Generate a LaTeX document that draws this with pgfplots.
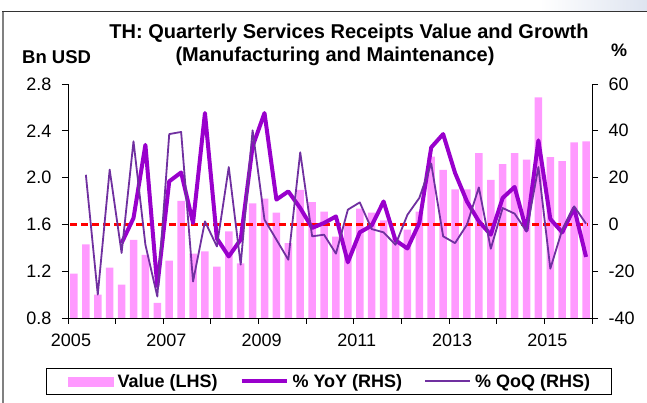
\documentclass[border=0pt]{standalone}
\usepackage{pgfplots}
\pgfplotsset{compat=1.18}
\usepackage{pgfplotstable}
\usepackage{fontspec}
\setmainfont{Liberation Sans}
\definecolor{barpink}{RGB}{255,153,255}
\definecolor{yoypurple}{RGB}{153,0,204}
\definecolor{qoqviolet}{RGB}{112,48,160}
\definecolor{framegray}{RGB}{128,128,128}

\pgfplotstableread{
x val
0.5 1.18
1.5 1.43
2.5 1.00
3.5 1.23
4.5 1.085
5.5 1.467
6.5 1.34
7.5 0.93
8.5 1.29
9.5 1.80
10.5 1.35
11.5 1.37
12.5 1.24
13.5 1.54
14.5 1.267
15.5 1.78
16.5 1.82
17.5 1.70
18.5 1.44
19.5 1.894
20.5 1.79
21.5 1.71
22.5 1.495
23.5 1.59
24.5 1.734
25.5 1.70
26.5 1.634
27.5 1.49
28.5 1.555
29.5 1.71
30.5 2.18
31.5 2.067
32.5 1.90
33.5 1.90
34.5 2.21
35.5 1.98
36.5 2.116
37.5 2.21
38.5 2.153
39.5 2.685
40.5 2.176
41.5 2.14
42.5 2.30
43.5 2.31
}\valtable

\pgfplotstableread{
x yoy
4.5 -8
5.5 2.7
6.5 34
7.5 -26.5
8.5 18.4
9.5 22.2
10.5 0.6
11.5 47.6
12.5 -6
13.5 -13.7
14.5 -6.5
15.5 33.3
16.5 47.6
17.5 10.6
18.5 14.1
19.5 7.0
20.5 -1.5
21.5 0.6
22.5 3.4
23.5 -16.2
24.5 -3.4
25.5 -0.5
26.5 9.8
27.5 -6.8
28.5 -10.3
29.5 0.6
30.5 32.9
31.5 38.6
32.5 22
33.5 9.8
34.5 1.3
35.5 -4.4
36.5 11.3
37.5 16
38.5 -2.6
39.5 35.9
40.5 2.3
41.5 -3.4
42.5 7.0
43.5 -13.9
}\yoytable

\pgfplotstableread{
x qoq
1.5 21.2
2.5 -30
3.5 23.4
4.5 -12.2
5.5 35.5
6.5 -8.7
7.5 -30.8
8.5 38.6
9.5 39.5
10.5 -24.4
11.5 1.3
12.5 -9.4
13.5 24.5
14.5 -17.2
15.5 40.2
16.5 2.0
17.5 -6.5
18.5 -15.1
19.5 30.8
20.5 -5.1
21.5 -4.4
22.5 -12.5
23.5 6.3
24.5 9.4
25.5 -2
26.5 -3.4
27.5 -8.7
28.5 4.1
29.5 11.3
30.5 26
31.5 -5.1
32.5 -8
33.5 -0.1
34.5 15.8
35.5 -10.4
36.5 7.0
37.5 4.6
38.5 -3
39.5 24.5
40.5 -18.9
41.5 -2.3
42.5 7.7
43.5 0.3
}\qoqtable

\begin{document}
\begin{tikzpicture}[x=1pt,y=1pt]
\useasboundingbox (-68,-85) rectangle (579,318);
% background swoosh and frame
\fill[left color=white, right color={rgb,255:red,222;green,228;blue,240}] (472,318) rectangle (579,306.5);
\draw[framegray, line width=1.2pt] (-65,-85) -- (-65,306);
\draw[black!80, line width=1pt] (-65.6,306) -- (579,306);

% titles
\node[anchor=base, font=\fontsize{20}{24}\bfseries\selectfont, inner sep=0pt] at (281,279) {TH: Quarterly Services Receipts Value and Growth};
\node[anchor=base, font=\fontsize{20}{24}\bfseries\selectfont, inner sep=0pt] at (267,256) {(Manufacturing and Maintenance)};
\node[anchor=base west, font=\fontsize{18.5}{22}\bfseries\selectfont, inner sep=0pt] at (-46,254) {Bn USD};
\node[anchor=base, font=\fontsize{18}{22}\bfseries\selectfont, inner sep=0pt] at (551,261) {\%};

\begin{axis}[
  at={(0,0)}, anchor=south west,
  scale only axis, width=524pt, height=234pt,
  xmin=0, xmax=44, ymin=0.8, ymax=2.8,
  axis y line*=left, axis x line*=bottom,
  axis line style={black, line width=0.9pt},
  tick align=outside, major tick length=6pt,
  tick style={black, line width=0.9pt},
  xtick={0,4,...,44},
  xticklabels={2005,,2007,,2009,,2011,,2013,,2015,},
  ytick={0.8,1.2,...,2.8},
  /pgf/number format/assume math mode=true,
  /pgf/number format/fixed, /pgf/number format/fixed zerofill, /pgf/number format/precision=1,
  ticklabel style={font=\fontsize{18}{21}\selectfont},
  xticklabel style={xshift=3pt, yshift=-6pt},
  yticklabel style={xshift=-7pt},
  clip=false,
]
\addplot[ybar, bar width=7.5pt, fill=barpink, draw=none] table[x=x,y=val]{\valtable};
\end{axis}

\begin{axis}[
  at={(0,0)}, anchor=south west,
  scale only axis, width=524pt, height=234pt,
  xmin=0, xmax=44, ymin=-40, ymax=60,
  axis y line*=right, axis x line=none,
  axis line style={black, line width=0.9pt},
  tick align=outside, major tick length=6pt,
  tick style={black, line width=0.9pt},
  ytick={-40,-20,...,60},
  /pgf/number format/assume math mode=true,
  ticklabel style={font=\fontsize{18}{21}\selectfont},
  yticklabel style={xshift=7pt},
  legend columns=3,
  legend style={at={(rel axis cs:0.498,-0.271)}, anchor=center,
    draw=black, line width=0.8pt,
    font=\fontsize{18}{21}\bfseries\selectfont,
    nodes={inner sep=0pt},
    inner xsep=21pt, inner ysep=6pt,
    /tikz/every odd column/.append style={column sep=4pt},
    /tikz/every even column/.append style={column sep=22pt}},
]
\addlegendimage{legend image code/.code={\fill[barpink] (0pt,-4.5pt) rectangle (45pt,4.5pt);}}
\addlegendentry{Value (LHS)}
\addplot[red, line width=2.5pt, dash pattern=on 7pt off 4pt, forget plot] coordinates {(0.2,0) (43.7,0)};
\addplot[yoypurple, line width=4pt, line join=round,
  legend image code/.code={\draw[yoypurple, line width=4pt] (0pt,0pt) -- (45pt,0pt);}] table[x=x,y=yoy]{\yoytable};
\addlegendentry{\% YoY (RHS)}
\addplot[qoqviolet, line width=1.8pt, line join=round,
  legend image code/.code={\draw[qoqviolet, line width=2pt] (0pt,0pt) -- (45pt,0pt);}] table[x=x,y=qoq]{\qoqtable};
\addlegendentry{\% QoQ (RHS)}
\end{axis}
\end{tikzpicture}
\end{document}
